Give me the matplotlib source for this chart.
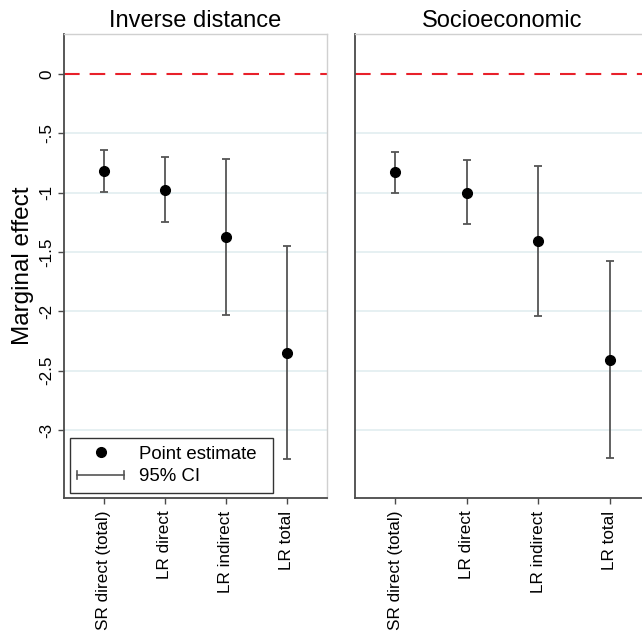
import numpy as np
import matplotlib
matplotlib.use("Agg")
import matplotlib.pyplot as plt
from matplotlib.lines import Line2D
from matplotlib.legend_handler import HandlerBase

plt.rcParams['font.family'] = ['Liberation Sans', 'DejaVu Sans']

# effect labels and estimates per weighting matrix
effects = ['SR direct (total)', 'LR direct', 'LR indirect', 'LR total']
panels = ['Inverse distance', 'Socioeconomic']

inv_est = [-0.818, -0.978, -1.372, -2.347]
inv_lo = [-0.995, -1.25, -2.032, -3.24]
inv_hi = [-0.643, -0.70, -0.714, -1.45]

soc_est = [-0.829, -1.0, -1.405, -2.406]
soc_lo = [-1.0, -1.267, -2.038, -3.238]
soc_hi = [-0.655, -0.728, -0.776, -1.574]

yticks = [0, -0.5, -1, -1.5, -2, -2.5, -3]
ytick_labels = ['0', '-.5', '-1', '-1.5', '-2', '-2.5', '-3']

spine_dark = '#4a4a4a'
spine_light = '#d0d0d0'
grid_col = '#e2eef0'
bar_col = '#555555'


class HandlerCI(HandlerBase):
    # horizontal bar with end caps for the CI legend entry
    def create_artists(self, legend, orig_handle, xdescent, ydescent,
                       width, height, fontsize, trans):
        y = height / 2 - ydescent
        x0, x1 = -xdescent, width - xdescent
        c = 3
        kw = dict(color=bar_col, lw=1.2, transform=trans)
        return [Line2D([x0, x1], [y, y], **kw),
                Line2D([x0, x0], [y - c, y + c], **kw),
                Line2D([x1, x1], [y - c, y + c], **kw)]


W, H = 642, 631
fig = plt.figure(figsize=(W / 100, H / 100), dpi=100)

ax1 = fig.add_axes([64 / W, 1 - 498 / H, 263 / W, 464 / H])
ax2 = fig.add_axes([355 / W, 1 - 498 / H, 295 / W, 464 / H])

data = [(inv_est, inv_lo, inv_hi), (soc_est, soc_lo, soc_hi)]
xlims = [(0.344, 4.66), (0.44, 4.56)]

for ax, title, (est, lo, hi), xl in zip([ax1, ax2], panels, data, xlims):
    x = np.arange(1, len(effects) + 1)
    est = np.array(est)
    yerr = [est - np.array(lo), np.array(hi) - est]
    for g in yticks[1:]:
        ax.axhline(g, color=grid_col, lw=1.2, zorder=0)
    ax.axhline(0, color='#e8202a', lw=1.5, dashes=(7.5, 4.8), zorder=1)
    ax.errorbar(x, est, yerr=yerr, fmt='none', ecolor=bar_col, elinewidth=1.3,
                capsize=3, capthick=1.3, zorder=2)
    ax.plot(x, est, 'o', color='black', ms=7, zorder=3)
    ax.set_xlim(*xl)
    ax.set_ylim(-3.572, 0.337)
    ax.set_xticks(x)
    ax.set_xticklabels(effects, rotation=90, fontsize=12.3)
    ax.set_title(title, fontsize=17, pad=5)
    for s in ['top', 'right']:
        ax.spines[s].set_color(spine_light)
        ax.spines[s].set_linewidth(1)
    for s in ['left', 'bottom']:
        ax.spines[s].set_color(spine_dark)
        ax.spines[s].set_linewidth(1.3)
    ax.tick_params(axis='x', length=4, width=1, color=spine_dark, pad=5)

ax1.set_yticks(yticks)
ax1.set_yticklabels(ytick_labels, rotation=90, va='center', fontsize=12.3)
ax1.tick_params(axis='y', length=4, width=1, color=spine_dark, pad=3)
ax1.set_ylabel('Marginal effect', fontsize=17.5, labelpad=4)
ax2.set_yticks([])

pt = Line2D([], [], ls='none', marker='o', color='black', ms=7)
ci = Line2D([], [], color=bar_col)
leg = ax1.legend([pt, ci], ['Point estimate', '95% CI'],
                 handler_map={ci: HandlerCI()},
                 loc='lower left', bbox_to_anchor=(0.023, 0.011, 0.772, 0),
                 mode='expand', fontsize=13.4,
                 frameon=True, fancybox=False, edgecolor='black', numpoints=1,
                 handlelength=2.5, borderpad=0.4, labelspacing=0.3,
                 handletextpad=0.8, borderaxespad=0)
leg.get_frame().set_linewidth(1)

fig.savefig('out.png', dpi=100)
